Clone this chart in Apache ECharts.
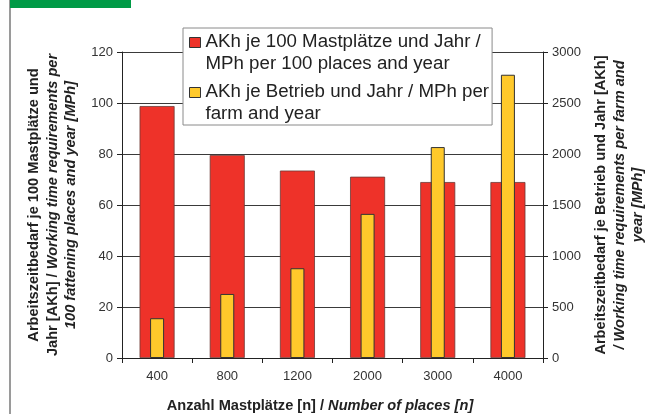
<!DOCTYPE html>
<html>
<head>
<meta charset="utf-8">
<style>
  html, body { margin: 0; padding: 0; background: #fff; }
  #chart { width: 654px; height: 414px; }
</style>
<script src="https://cdn.jsdelivr.net/npm/echarts@6/dist/echarts.min.js"></script>
</head>
<body>
<div id="chart"></div>
<script>
// Number of fattening places per farm
const categories = ['400', '800', '1200', '2000', '3000', '4000'];
// Working hours per 100 places and year (left axis)
const perPlaces = [98.8, 79.6, 73.5, 71.1, 69.0, 69.0];
// Working hours per farm and year (right axis)
const perFarm = [390, 628, 880, 1413, 2068, 2777];
// Tick settings of both value axes
const leftTicks = { min: 0, max: 120, interval: 20 };
const rightTicks = { min: 0, max: 3000, interval: 500 };

const seriesNames = [
  'AKh je 100 Mastplätze und Jahr /\nMPh per 100 places and year',
  'AKh je Betrieb und Jahr / MPh per\nfarm and year'
];

const FONT = '"Liberation Sans", Arial, Helvetica, sans-serif';
const RED = '#ee3229';
const YELLOW = '#ffc92b';
const GRID = '#3a3a3a';
const TITLE_SIZE = 14.6;

// legend square sits on the first text line: the path's bounding box is 11x44
const legendIcon = 'path://M0,0M0,7H11V17H0ZM0,44';

const italic = { fontFamily: FONT, fontSize: TITLE_SIZE, fontWeight: 'bold', fontStyle: 'italic', color: '#222', lineHeight: 18.5 };

const chart = echarts.init(document.getElementById('chart'), null, { renderer: 'canvas' });

chart.setOption({
  backgroundColor: '#fff',
  animation: false,
  textStyle: { fontFamily: FONT },
  grid: { left: 122, right: 111, top: 52, bottom: 56, containLabel: false, outerBoundsMode: 'none' },
  graphic: [
    { type: 'rect', left: 9, top: 0, shape: { width: 2, height: 414 }, style: { fill: '#9a9a9a' }, z: 0 },
    { type: 'rect', left: 10, top: 0, shape: { width: 121, height: 8 }, style: { fill: '#009a46' }, z: 0 }
  ],
  legend: {
    orient: 'vertical',
    left: 183,
    top: 28,
    padding: [2, 3, 0, 6],
    itemGap: 5,
    itemWidth: 11,
    itemHeight: 44,
    backgroundColor: '#fff',
    borderColor: '#8a8a8a',
    borderWidth: 1,
    z: 10,
    data: [
      { name: seriesNames[0], icon: legendIcon, itemStyle: { color: RED, borderColor: '#333', borderWidth: 1 } },
      { name: seriesNames[1], icon: legendIcon, itemStyle: { color: YELLOW, borderColor: '#333', borderWidth: 1 } }
    ],
    textStyle: { fontFamily: FONT, fontSize: 18.7, lineHeight: 22, color: '#222' }
  },
  xAxis: [
    {
      type: 'category',
      data: categories,
      axisLine: { show: true, lineStyle: { color: '#222', width: 1 } },
      axisTick: { show: true, length: 5, lineStyle: { color: '#222' } },
      axisLabel: { color: '#333', fontSize: 13, margin: 12, fontFamily: FONT },
      name: 'Anzahl Mastplätze [n] / {i|Number of places [n]}',
      nameLocation: 'middle',
      nameGap: 39,
      nameTextStyle: {
        fontFamily: FONT, fontSize: TITLE_SIZE, fontWeight: 'bold', color: '#222',
        padding: [0, 25, 0, 0],
        rich: { i: italic }
      }
    },
    {
      type: 'category',
      data: categories,
      show: false
    }
  ],
  yAxis: [
    {
      type: 'value',
      position: 'left',
      min: leftTicks.min, max: leftTicks.max, interval: leftTicks.interval,
      axisLine: { show: true, lineStyle: { color: '#222' } },
      axisTick: { show: true, length: 5, lineStyle: { color: '#222' } },
      axisLabel: { color: '#333', fontSize: 13, margin: 9, fontFamily: FONT },
      splitLine: { show: true, lineStyle: { color: GRID, width: 1 } },
      name: 'Arbeitszeitbedarf je 100 Mastplätze und\nJahr [AKh] / {i|Working time requirements per}\n{i|100 fattening places and year [MPh]}',
      nameLocation: 'middle',
      nameRotate: 90,
      nameGap: 39,
      nameTextStyle: {
        fontFamily: FONT, fontSize: TITLE_SIZE, fontWeight: 'bold', color: '#222', lineHeight: 18.5, align: 'center',
        rich: { i: italic }
      }
    },
    {
      type: 'value',
      position: 'right',
      min: rightTicks.min, max: rightTicks.max, interval: rightTicks.interval,
      axisLine: { show: true, lineStyle: { color: '#222' } },
      axisTick: { show: true, length: 5, lineStyle: { color: '#222' } },
      axisLabel: { color: '#333', fontSize: 13, margin: 9, fontFamily: FONT, formatter: (v) => String(v) },
      splitLine: { show: false },
      name: 'Arbeitszeitbedarf je Betrieb und Jahr [AKh]\n{i|/ Working time requirements per farm and}\n{i|year [MPh]}',
      nameLocation: 'middle',
      nameRotate: 90,
      nameGap: 48,
      nameTextStyle: {
        fontFamily: FONT, fontSize: TITLE_SIZE, fontWeight: 'bold', color: '#222', lineHeight: 18.5, align: 'center',
        rich: { i: italic }
      }
    }
  ],
  series: [
    {
      name: seriesNames[0],
      type: 'bar',
      xAxisIndex: 0,
      yAxisIndex: 0,
      barWidth: 35,
      data: perPlaces,
      itemStyle: { color: RED, borderColor: '#6b3a36', borderWidth: 0.8 },
      z: 2
    },
    {
      name: seriesNames[1],
      type: 'bar',
      xAxisIndex: 1,
      yAxisIndex: 1,
      barWidth: 14,
      data: perFarm,
      itemStyle: { color: YELLOW, borderColor: '#333', borderWidth: 1 },
      z: 3
    }
  ]
});
</script>
</body>
</html>
